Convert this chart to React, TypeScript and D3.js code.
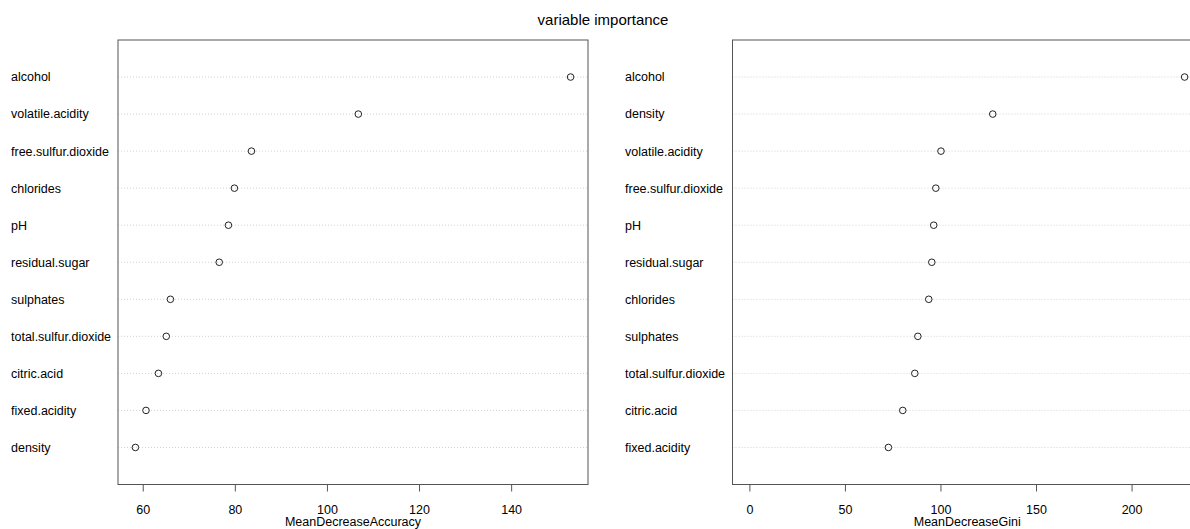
import React, { useEffect, useRef } from 'react';
import * as d3 from 'd3';

// left panel: MeanDecreaseAccuracy (top to bottom)
const accLabels = ['alcohol', 'volatile.acidity', 'free.sulfur.dioxide', 'chlorides', 'pH', 'residual.sugar',
  'sulphates', 'total.sulfur.dioxide', 'citric.acid', 'fixed.acidity', 'density'];
const accValues = [152.8, 106.7, 83.5, 79.8, 78.5, 76.5, 65.9, 65.0, 63.3, 60.6, 58.3];
const accTicks = [60, 80, 100, 120, 140];

// right panel: MeanDecreaseGini (top to bottom)
const giniLabels = ['alcohol', 'density', 'volatile.acidity', 'free.sulfur.dioxide', 'pH', 'residual.sugar',
  'chlorides', 'sulphates', 'total.sulfur.dioxide', 'citric.acid', 'fixed.acidity'];
const giniValues = [227.5, 127.1, 100.0, 97.3, 96.2, 95.2, 93.6, 87.9, 86.3, 80.0, 72.5];
const giniTicks = [0, 50, 100, 150, 200];

const W = 1190;
const H = 529;
const FONT = 'Liberation Sans, Arial, sans-serif';

interface PanelSpec {
  labels: string[];
  values: number[];
  ticks: number[];
  title: string;
  labelX: number;
  left: number;
  right: number;
  fromZero: boolean;
}

const App: React.FC = () => {
  const ref = useRef<SVGSVGElement | null>(null);

  useEffect(() => {
    if (!ref.current) return;
    const svg = d3.select(ref.current);
    svg.selectAll('*').remove();

    const top = 40;
    const bottom = 484.5;

    svg.append('text')
      .attr('x', 603).attr('y', 25)
      .attr('text-anchor', 'middle')
      .attr('font-family', FONT).attr('font-size', 15)
      .text('variable importance');

    const panels: PanelSpec[] = [
      { labels: accLabels, values: accValues, ticks: accTicks, title: 'MeanDecreaseAccuracy', labelX: 11, left: 118, right: 588, fromZero: false },
      { labels: giniLabels, values: giniValues, ticks: giniTicks, title: 'MeanDecreaseGini', labelX: 625, left: 732.5, right: 1202, fromZero: true },
    ];

    panels.forEach(p => {
      const lo = p.fromZero ? 0 : d3.min(p.values)!;
      const hi = d3.max(p.values)!;
      const pad = (hi - lo) * 0.04;
      const x = d3.scaleLinear().domain([lo - pad, hi + pad]).range([p.left, p.right]);
      const n = p.labels.length;
      const y = d3.scaleLinear().domain([0, n + 1]).range([bottom, top]);
      const g = svg.append('g');

      // dotted guide lines
      g.selectAll('line.guide')
        .data(p.labels)
        .enter().append('line')
        .attr('class', 'guide')
        .attr('x1', p.left).attr('x2', p.right)
        .attr('y1', (_, i) => y(n - i)).attr('y2', (_, i) => y(n - i))
        .attr('stroke', '#d3d3d3').attr('stroke-width', 1)
        .attr('stroke-dasharray', '1,2');

      g.selectAll('text.lab')
        .data(p.labels)
        .enter().append('text')
        .attr('class', 'lab')
        .attr('x', p.labelX)
        .attr('y', (_, i) => y(n - i))
        .attr('dy', '0.35em')
        .attr('font-family', FONT).attr('font-size', 12.5)
        .attr('fill', '#000')
        .text(d => d);

      g.selectAll('circle')
        .data(p.values)
        .enter().append('circle')
        .attr('cx', d => x(d))
        .attr('cy', (_, i) => y(n - i))
        .attr('r', 3.3)
        .attr('fill', 'none')
        .attr('stroke', '#222').attr('stroke-width', 1);

      // box
      g.append('rect')
        .attr('x', p.left).attr('y', top)
        .attr('width', p.right - p.left).attr('height', bottom - top)
        .attr('fill', 'none').attr('stroke', '#555').attr('stroke-width', 1);

      // bottom axis (R style: line spans first to last tick)
      const ax = g.append('g').attr('transform', `translate(0,${bottom})`);
      ax.append('line')
        .attr('x1', x(p.ticks[0])).attr('x2', x(p.ticks[p.ticks.length - 1]))
        .attr('stroke', '#555');
      ax.selectAll('line.tick')
        .data(p.ticks)
        .enter().append('line')
        .attr('class', 'tick')
        .attr('x1', d => x(d)).attr('x2', d => x(d))
        .attr('y1', 0).attr('y2', 7)
        .attr('stroke', '#555');
      ax.selectAll('text')
        .data(p.ticks)
        .enter().append('text')
        .attr('x', d => x(d)).attr('y', 29)
        .attr('text-anchor', 'middle')
        .attr('font-family', FONT).attr('font-size', 12.5)
        .text(d => String(d));

      g.append('text')
        .attr('x', (p.left + p.right) / 2)
        .attr('y', 526)
        .attr('text-anchor', 'middle')
        .attr('font-family', FONT).attr('font-size', 12.5)
        .text(p.title);
    });
  }, []);

  return (
    <svg ref={ref} width={W} height={H}
      style={{ position: 'absolute', left: 0, top: 0, background: '#fff' }} />
  );
};

export default App;
